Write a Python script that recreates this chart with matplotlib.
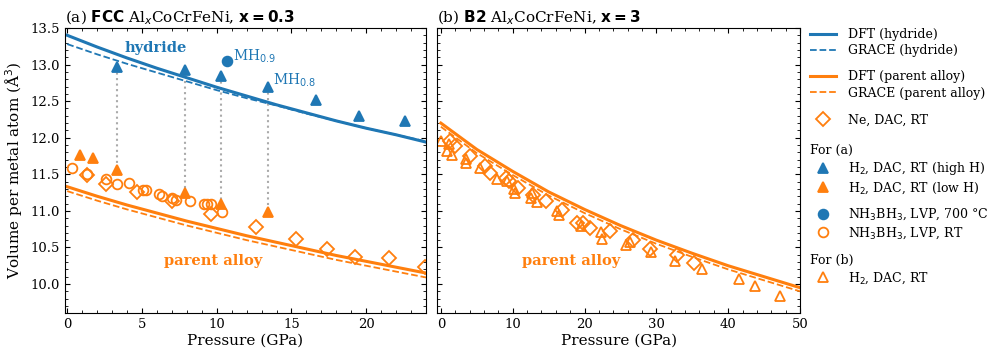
import matplotlib.pyplot as plt
from matplotlib.lines import Line2D
from matplotlib.ticker import MultipleLocator

# ---- data ----
# (a) FCC, x = 0.3 : DFT / GRACE equations of state
a_curve_p = [0, 2, 4, 6, 8, 10, 12, 14, 16, 18, 20, 22, 24]
a_dft_hydride = [13.40, 13.24, 13.09, 12.95, 12.82, 12.69, 12.57, 12.45, 12.34, 12.23, 12.13, 12.04, 11.94]
a_grace_hydride = [13.28, 13.14, 13.01, 12.89, 12.77, 12.65, 12.54, 12.44, 12.33, 12.23, 12.13, 12.04, 11.95]
a_dft_parent = [11.33, 11.20, 11.08, 10.97, 10.86, 10.76, 10.66, 10.57, 10.48, 10.39, 10.31, 10.23, 10.15]
a_grace_parent = [11.27, 11.14, 11.02, 10.91, 10.80, 10.70, 10.60, 10.51, 10.42, 10.33, 10.25, 10.17, 10.09]

# (a) experiments
a_high_p = [3.36, 7.88, 10.26, 13.46, 16.64, 19.51, 22.6]
a_high_v = [12.97, 12.92, 12.84, 12.69, 12.51, 12.30, 12.23]
a_low_p = [0.87, 1.71, 3.36, 7.88, 10.26, 13.46]
a_low_v = [11.77, 11.72, 11.56, 11.25, 11.10, 10.98]
a_lvp700_p = [10.72]
a_lvp700_v = [13.05]
a_lvprt_p = [0.31, 1.31, 2.56, 3.36, 4.10, 5.10, 5.25, 6.17, 6.33, 7.03, 7.27, 8.22, 9.15, 9.33, 9.60, 10.38]
a_lvprt_v = [11.59, 11.50, 11.44, 11.37, 11.38, 11.28, 11.29, 11.23, 11.20, 11.18, 11.15, 11.14, 11.09, 11.09, 11.09, 10.99]
a_ne_p = [1.31, 2.56, 4.65, 6.99, 9.60, 12.6, 15.30, 17.35, 19.24, 21.51, 23.9]
a_ne_v = [11.49, 11.37, 11.26, 11.14, 10.96, 10.78, 10.62, 10.48, 10.37, 10.35, 10.23]

# (b) B2, x = 3
b_curve_p = [0, 5, 10, 15, 20, 25, 30, 35, 40, 45, 50]
b_dft_parent = [12.20, 11.84, 11.54, 11.26, 11.02, 10.80, 10.60, 10.42, 10.25, 10.10, 9.95]
b_grace_parent = [12.15, 11.79, 11.49, 11.21, 10.97, 10.75, 10.55, 10.37, 10.20, 10.05, 9.90]
b_ne_p = [1.3, 2.0, 4.0, 6.2, 6.9, 9.0, 9.5, 10.8, 12.8, 14.6, 16.9, 18.9, 19.8, 20.7, 23.5, 26.8, 29.1, 32.9, 35.3]
b_ne_v = [11.96, 11.89, 11.75, 11.62, 11.52, 11.45, 11.41, 11.31, 11.22, 11.13, 11.01, 10.84, 10.83, 10.76, 10.73,
          10.60, 10.48, 10.39, 10.29]
b_h2_p = [0.0, 0.8, 1.2, 1.6, 3.5, 3.5, 5.4, 7.8, 9.2, 10.2, 10.3, 12.5, 12.7, 13.4, 16.2, 16.5, 19.5, 22.3, 22.4,
          25.8, 26.4, 29.3, 32.6, 36.4, 41.5, 43.8, 47.2]
b_h2_v = [11.96, 11.82, 11.92, 11.76, 11.71, 11.66, 11.58, 11.44, 11.41, 11.30, 11.25, 11.18, 11.24, 11.12, 11.00,
          10.94, 10.80, 10.71, 10.62, 10.54, 10.57, 10.44, 10.32, 10.20, 10.07, 9.97, 9.84]

BLUE = "#1f77b4"
ORANGE = "#ff7f0e"

plt.rcParams["font.family"] = "serif"
plt.rcParams["font.serif"] = ["DejaVu Serif"]
plt.rcParams["mathtext.fontset"] = "dejavusans"
plt.rcParams["xtick.direction"] = "in"
plt.rcParams["ytick.direction"] = "in"
plt.rcParams["xtick.top"] = True
plt.rcParams["ytick.right"] = True
plt.rcParams["font.size"] = 9

fig = plt.figure(figsize=(9.97, 3.58), dpi=100)
ax_a = fig.add_axes([0.0652, 0.1249, 0.3621, 0.7969])
ax_b = fig.add_axes([0.4386, 0.1249, 0.3638, 0.7969], sharey=ax_a)

mk = dict(linestyle="none", markersize=7, markeredgewidth=1.3)
open_o = dict(markerfacecolor="none", markeredgecolor=ORANGE)

# panel (a)
ax_a.plot(a_curve_p, a_dft_hydride, color=BLUE, lw=2.2)
ax_a.plot(a_curve_p, a_grace_hydride, color=BLUE, lw=1.3, ls="--")
ax_a.plot(a_curve_p, a_dft_parent, color=ORANGE, lw=2.2)
ax_a.plot(a_curve_p, a_grace_parent, color=ORANGE, lw=1.3, ls="--")

for p, v in zip(a_high_p, a_high_v):
    if p in a_low_p:
        v_low = a_low_v[a_low_p.index(p)]
        ax_a.plot([p, p], [v, v_low], color="#aaaaaa", ls=":", lw=1.5, zorder=1)

ax_a.plot(a_ne_p, a_ne_v, marker="D", **open_o, **mk)
ax_a.plot(a_lvprt_p, a_lvprt_v, marker="o", **open_o, **mk)
ax_a.plot(a_high_p, a_high_v, marker="^", color=BLUE, **mk)
ax_a.plot(a_low_p, a_low_v, marker="^", color=ORANGE, **mk)
ax_a.plot(a_lvp700_p, a_lvp700_v, marker="o", color=BLUE, **mk)

ax_a.text(11.07, 13.06, r"MH$_{0.9}$", color=BLUE, fontsize=10, va="baseline")
ax_a.text(13.74, 12.72, r"MH$_{0.8}$", color=BLUE, fontsize=10, va="baseline")
ax_a.text(5.92, 13.22, "hydride", color=BLUE, fontsize=10.5, fontweight="bold", ha="center", va="center")
ax_a.text(9.77, 10.31, "parent alloy", color=ORANGE, fontsize=10.5, fontweight="bold", ha="center", va="center")

ax_a.set_xlim(-0.15, 24)
ax_a.set_ylim(9.6, 13.5)
ax_a.xaxis.set_major_locator(MultipleLocator(5))
ax_a.xaxis.set_minor_locator(MultipleLocator(1))
ax_a.yaxis.set_major_locator(MultipleLocator(0.5))
ax_a.yaxis.set_minor_locator(MultipleLocator(0.1))
ax_a.set_xlabel("Pressure (GPa)", fontsize=11, labelpad=2)
ax_a.set_ylabel("Volume per metal atom (Å$^3$)", fontsize=11)
ax_a.set_title(r"(a) $\mathbf{FCC}$ Al$_x$CoCrFeNi, $\mathbf{x = 0.3}$", loc="left", fontsize=11, pad=4)

# panel (b)
ax_b.plot(b_curve_p, b_dft_parent, color=ORANGE, lw=2.2)
ax_b.plot(b_curve_p, b_grace_parent, color=ORANGE, lw=1.3, ls="--")
ax_b.plot(b_ne_p, b_ne_v, marker="D", **open_o, **mk)
ax_b.plot(b_h2_p, b_h2_v, marker="^", **open_o, **mk)
ax_b.text(18.17, 10.31, "parent alloy", color=ORANGE, fontsize=10.5, fontweight="bold", ha="center", va="center")

ax_b.set_xlim(-0.5, 50)
ax_b.xaxis.set_major_locator(MultipleLocator(10))
ax_b.xaxis.set_minor_locator(MultipleLocator(2))
ax_b.tick_params(axis="y", labelleft=False)
ax_b.set_xlabel("Pressure (GPa)", fontsize=11, labelpad=2)
ax_b.set_title(r"(b) $\mathbf{B2}$ Al$_x$CoCrFeNi, $\mathbf{x = 3}$", loc="left", fontsize=11, pad=4)

for ax in (ax_a, ax_b):
    ax.tick_params(which="both", labelsize=9.5)
    ax.tick_params(which="major", length=3.5)
    ax.tick_params(which="minor", length=2)

# legend, built in groups so the gaps match
lmk = dict(linestyle="none", markersize=7, markeredgewidth=1.3)
groups = [
    (None, [Line2D([], [], color=BLUE, lw=2.2), Line2D([], [], color=BLUE, lw=1.3, ls="--")],
     ["DFT (hydride)", "GRACE (hydride)"], 42.5),
    (None, [Line2D([], [], color=ORANGE, lw=2.2), Line2D([], [], color=ORANGE, lw=1.3, ls="--")],
     ["DFT (parent alloy)", "GRACE (parent alloy)"], 85),
    (None, [Line2D([], [], marker="D", **open_o, **lmk)], ["Ne, DAC, RT"], 120),
    ("For (a)", [Line2D([], [], marker="^", color=BLUE, **lmk), Line2D([], [], marker="^", color=ORANGE, **lmk)],
     ["H$_2$, DAC, RT (high H)", "H$_2$, DAC, RT (low H)"], 170),
    (None, [Line2D([], [], marker="o", color=BLUE, **lmk), Line2D([], [], marker="o", **open_o, **lmk)],
     ["NH$_3$BH$_3$, LVP, 700 °C", "NH$_3$BH$_3$, LVP, RT"], 224),
    ("For (b)", [Line2D([], [], marker="^", **open_o, **lmk)], ["H$_2$, DAC, RT"], 270),
]
for title, handles, labels, y_px in groups:
    leg = fig.legend(handles, labels, title=title, loc="center left", bbox_to_anchor=(0.8125, 1 - y_px / 358),
                     frameon=False, fontsize=9, title_fontsize=9, borderpad=0, borderaxespad=0,
                     labelspacing=0.25, handlelength=2.1, handletextpad=0.9, alignment="left")

plt.savefig("out.png", dpi=100)
